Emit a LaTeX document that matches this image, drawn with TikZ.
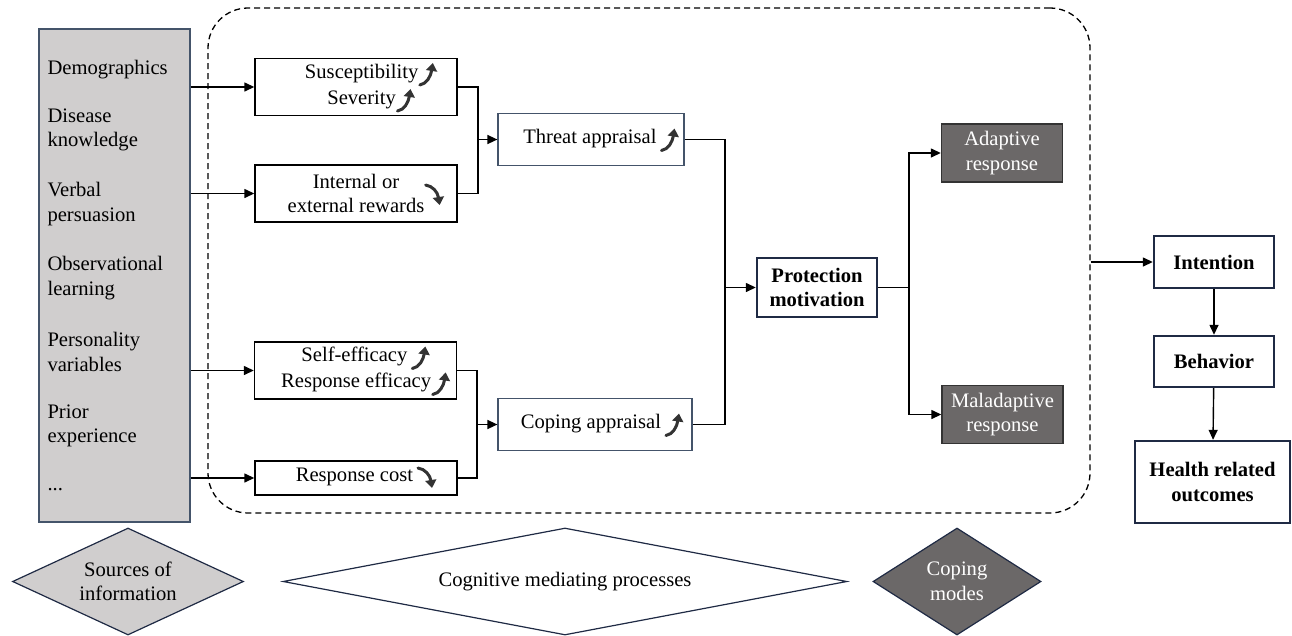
\documentclass[tikz,border=0pt]{standalone}
\usepackage{fontspec}
\setmainfont{Liberation Serif}
\usetikzlibrary{arrows.meta,shapes.geometric}

\definecolor{lgray}{HTML}{D0CECE}
\definecolor{dgray}{HTML}{6B6868}
\definecolor{navy}{HTML}{1F2A44}
\definecolor{slate}{HTML}{44546A}
\definecolor{glyph}{HTML}{333333}

\tikzset{
	arrglyph/.style={glyph, line width=3pt, line cap=round, -{Triangle[length=8pt,width=11pt]}},
}
% small trend arrows next to the factors
\newcommand{\uparr}{\tikz[baseline=7pt]\draw[arrglyph] (0pt,0pt) .. controls (7pt,1pt) and (11pt,9pt) .. (13pt,22pt);}
\newcommand{\dnarr}{\tikz[baseline=7pt]\draw[arrglyph] (0pt,20pt) .. controls (7pt,19pt) and (12pt,13pt) .. (14pt,0pt);}

\begin{document}
\begin{tikzpicture}[x=1pt, y=-1pt, >={Triangle[length=10pt,width=9pt]},
	every node/.style={font=\fontsize{20.6}{24.6}\selectfont},
	factor/.style={draw, line width=1.4pt, align=center, inner sep=0pt, minimum width=202, minimum height=57},
	appraisal/.style={draw=slate, line width=1.2pt, align=center, inner sep=0pt, minimum height=52},
	outcome/.style={draw=navy, line width=2.4pt, align=center, inner sep=0pt, font=\fontsize{20.6}{24.6}\selectfont\bfseries, minimum width=120},
	mode/.style={draw=black!80, line width=1.4pt, fill=dgray, text=white, align=center, inner sep=0pt, minimum width=121, minimum height=58},
	legend/.style={shape=diamond, draw=navy, line width=1.2pt, align=center, inner sep=0pt, minimum height=107},
	link/.style={black, line width=1.4pt}]
	\useasboundingbox (0,0) rectangle (1292,635);

	% cognitive mediating processes frame
	\node[draw, dashed, dash pattern=on 6pt off 4pt, line width=1.3pt, rounded corners=40pt,
		minimum width=882, minimum height=505, inner sep=0pt] (cmp) at (649,260.5) {};

	% sources of information
	\node[draw=slate, line width=1.2pt, fill=lgray, minimum width=151, minimum height=493, inner sep=0pt] (src) at (114.5,275.5) {};
	\node[anchor=west, align=left] (src1) at (44,70) {Demographics};
	\node[anchor=west, align=left] (src2) at (44,130) {Disease\\knowledge};
	\node[anchor=west, align=left] (src3) at (44,204) {Verbal\\persuasion};
	\node[anchor=west, align=left] (src4) at (44,278) {Observational\\learning};
	\node[anchor=west, align=left] (src5) at (44,352) {Personality\\variables};
	\node[anchor=west, align=left] (src6) at (44,426) {Prior\\experience};
	\node[anchor=west, align=left] (src7) at (44,490) {...};

	% threat side
	\node[factor] (sus) at (356,87) {\hspace*{30pt}Susceptibility\uparr\\\hspace*{30pt}Severity\uparr};
	\node[factor] (rew) at (356,193.5) {Internal or\\external rewards};
	\node (rewarr) at (434,195) {\dnarr};
	\node[appraisal, minimum width=186] (threat) at (591,139.5) {\hspace*{20pt}Threat appraisal\,\uparr};

	% coping side
	\node[factor] (eff) at (355.5,370.5) {\hspace*{20pt}Self-efficacy\,\uparr\\\hspace*{20pt}Response efficacy\uparr};
	\node[factor, minimum height=34] (cost) at (356,478) {\hspace*{20pt}Response cost\,\dnarr};
	\node[appraisal, minimum width=194] (coping) at (595,424.5) {\hspace*{14pt}Coping appraisal\,\uparr};

	% motivation and coping modes
	\node[outcome, minimum height=59] (pm) at (817,287.5) {Protection\\motivation};
	\node[mode] (adapt) at (1002,153) {Adaptive\\response};
	\node[mode] (maladapt) at (1002.5,414.5) {Maladaptive\\response};

	% behaviour chain
	\node[outcome, minimum height=52] (int) at (1214,262) {Intention};
	\node[outcome, minimum height=51] (beh) at (1214,361.5) {Behavior};
	\node[outcome, minimum width=155, minimum height=82] (health) at (1212.5,482) {Health related\\outcomes};

	% junctions
	\coordinate (jt) at (478,139.5);
	\coordinate (jc) at (477,424.5);
	\coordinate (jp) at (725,287.5);
	\coordinate (jm) at (909,287.5);

	\draw[link, ->] (src.east |- sus.west) -- (sus.west);
	\draw[link, ->] (src.east |- rew.west) -- (rew.west);
	\draw[link, ->] (src.east |- eff.west) -- (eff.west);
	\draw[link, ->] (src.east |- cost.west) -- (cost.west);

	\draw[link] (sus.east) -| (jt) |- (rew.east);
	\draw[link, ->] (jt) -- (threat.west);
	\draw[link] (eff.east) -| (jc) |- (cost.east);
	\draw[link, ->] (jc) -- (coping.west);

	\draw[link] (threat.east) -| (jp) |- (coping.east);
	\draw[link, ->] (jp) -- (pm.west);
	\draw[link] (pm.east) -- (jm);
	\draw[link, ->] (jm) |- (adapt.west);
	\draw[link, ->] (jm) |- (maladapt.west);

	\draw[link, ->] (cmp.east |- int.west) -- (int.west);
	\draw[link, ->] (int) -- (beh);
	\draw[link, ->] (beh) -- (health);

	% legend
	\node[legend, fill=lgray, minimum width=231, aspect=2.16] (leg1) at (128,581.5) {Sources of\\information};
	\node[legend, fill=white, minimum width=564, aspect=5.27] (leg2) at (565,581.5) {Cognitive mediating processes};
	\node[legend, fill=dgray, text=white, minimum width=168, aspect=1.57] (leg3) at (957,581.5) {Coping\\modes};
\end{tikzpicture}
\end{document}
